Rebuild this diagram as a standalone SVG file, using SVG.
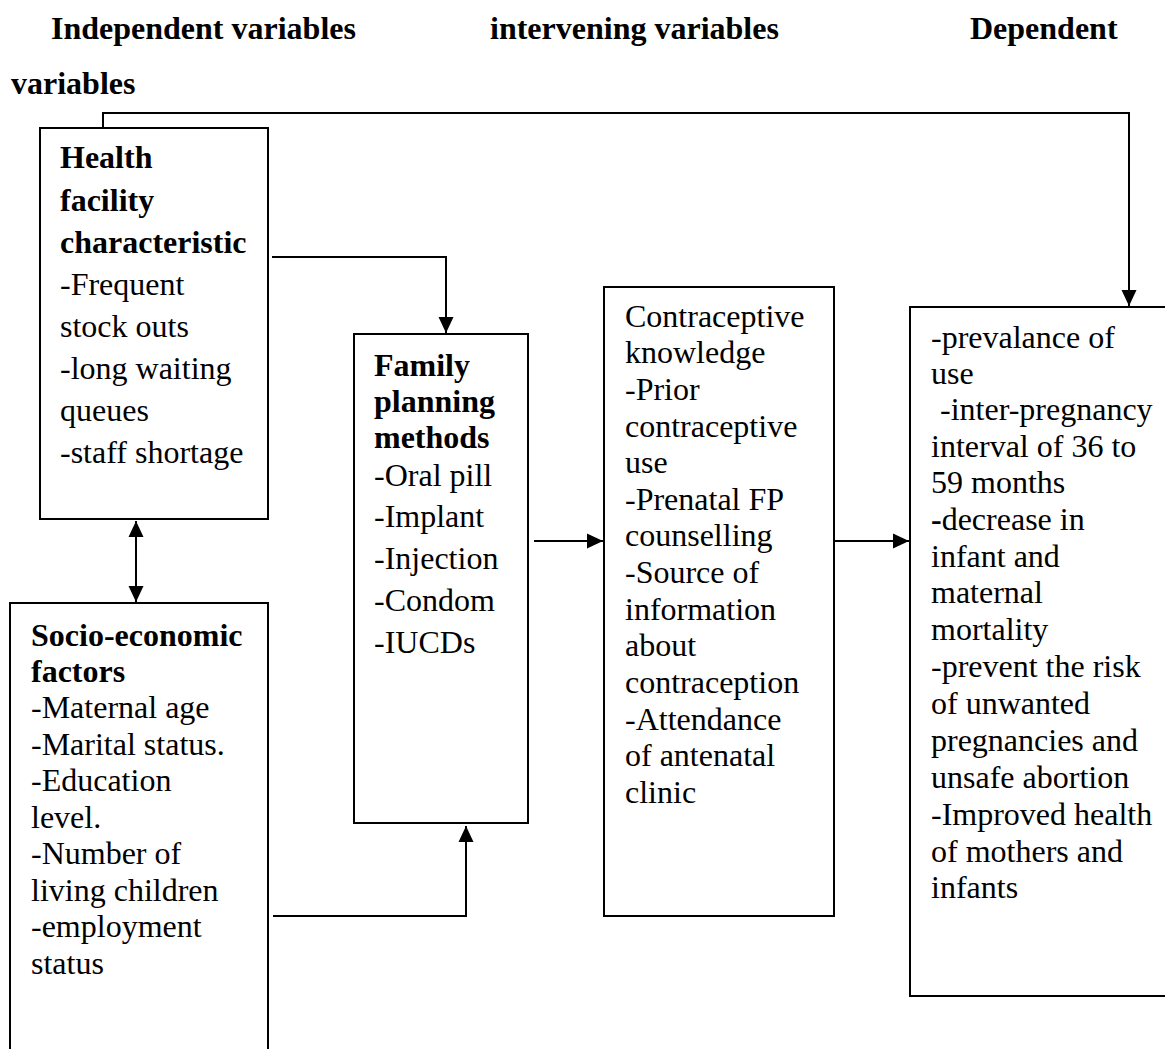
<svg xmlns="http://www.w3.org/2000/svg" width="1165" height="1049" viewBox="0 0 1165 1049">
<style>
text{font-family:"Liberation Serif","Times New Roman",serif;font-size:32px;fill:#000}
.b{font-weight:bold}
.box{fill:#fff;stroke:#000;stroke-width:2}
.ln{fill:none;stroke:#000;stroke-width:2}
</style>
<defs>
<marker id="ah" viewBox="0 0 16 16" refX="16" refY="8" markerWidth="16" markerHeight="16" orient="auto-start-reverse" markerUnits="userSpaceOnUse">
<path d="M0,0.5 L16,8 L0,15.5 z" fill="#000"/>
</marker>
</defs>
<rect width="1165" height="1049" fill="#fff"/>
<g id="headers">
<text class="b" x="51" y="39">Independent variables</text>
<text class="b" x="490" y="39">intervening variables</text>
<text class="b" x="970" y="39">Dependent</text>
<text class="b" x="11" y="94">variables</text>
</g>
<g id="connectors">
<path class="ln" d="M103,128 V113 H1129 V306" marker-end="url(#ah)"/>
<path class="ln" d="M272,257 H446 V333" marker-end="url(#ah)"/>
<path class="ln" d="M136,521 V602" marker-start="url(#ah)" marker-end="url(#ah)"/>
<path class="ln" d="M273,916 H466 V826" marker-end="url(#ah)"/>
<path class="ln" d="M534,541 H603" marker-end="url(#ah)"/>
<path class="ln" d="M835,541 H909" marker-end="url(#ah)"/>
</g>
<g id="health">
<rect class="box" x="40" y="128" width="228" height="391"/>
<text><tspan class="b" x="60" y="168">Health</tspan><tspan class="b" x="60" y="211">facility</tspan><tspan class="b" x="60" y="253">characteristic</tspan><tspan x="60" y="295">-Frequent</tspan><tspan x="60" y="337">stock outs</tspan><tspan x="60" y="379">-long waiting</tspan><tspan x="60" y="421">queues</tspan><tspan x="60" y="463">-staff shortage</tspan></text>
</g>
<g id="socio">
<rect class="box" x="10" y="603" width="258" height="470"/>
<text><tspan class="b" x="31" y="646">Socio-economic</tspan><tspan class="b" x="31" y="682">factors</tspan><tspan x="31" y="718">-Maternal age</tspan><tspan x="31" y="755">-Marital status.</tspan><tspan x="31" y="791">-Education</tspan><tspan x="31" y="828">level.</tspan><tspan x="31" y="864">-Number of</tspan><tspan x="31" y="901">living children</tspan><tspan x="31" y="937">-employment</tspan><tspan x="31" y="974">status</tspan></text>
</g>
<g id="family">
<rect class="box" x="354" y="334" width="174" height="489"/>
<text><tspan class="b" x="374" y="376">Family</tspan><tspan class="b" x="374" y="412">planning</tspan><tspan class="b" x="374" y="448">methods</tspan><tspan x="374" y="486">-Oral pill</tspan><tspan x="374" y="527">-Implant</tspan><tspan x="374" y="569">-Injection</tspan><tspan x="374" y="611">-Condom</tspan><tspan x="374" y="653">-IUCDs</tspan></text>
</g>
<g id="intervening">
<rect class="box" x="604" y="287" width="230" height="629"/>
<text><tspan x="625" y="327">Contraceptive</tspan><tspan x="625" y="363">knowledge</tspan><tspan x="625" y="400">-Prior</tspan><tspan x="625" y="437">contraceptive</tspan><tspan x="625" y="473">use</tspan><tspan x="625" y="510">-Prenatal FP</tspan><tspan x="625" y="546">counselling</tspan><tspan x="625" y="583">-Source of</tspan><tspan x="625" y="620">information</tspan><tspan x="625" y="656">about</tspan><tspan x="625" y="693">contraception</tspan><tspan x="625" y="730">-Attendance</tspan><tspan x="625" y="766">of antenatal</tspan><tspan x="625" y="803">clinic</tspan></text>
</g>
<g id="dependent">
<rect class="box" x="910" y="307" width="270" height="689"/>
<text><tspan x="931" y="348">-prevalance of</tspan><tspan x="931" y="384">use</tspan><tspan x="940" y="420">-inter-pregnancy</tspan><tspan x="931" y="457">interval of 36 to</tspan><tspan x="931" y="493">59 months</tspan><tspan class="b" x="931" y="530">-</tspan><tspan>decrease in</tspan><tspan x="931" y="567">infant and</tspan><tspan x="931" y="603">maternal</tspan><tspan x="931" y="640">mortality</tspan><tspan x="931" y="677">-prevent the risk</tspan><tspan x="931" y="714">of unwanted</tspan><tspan x="931" y="751">pregnancies and</tspan><tspan x="931" y="788">unsafe abortion</tspan><tspan x="931" y="825">-Improved health</tspan><tspan x="931" y="862">of mothers and</tspan><tspan x="931" y="898">infants</tspan></text>
</g>
</svg>
